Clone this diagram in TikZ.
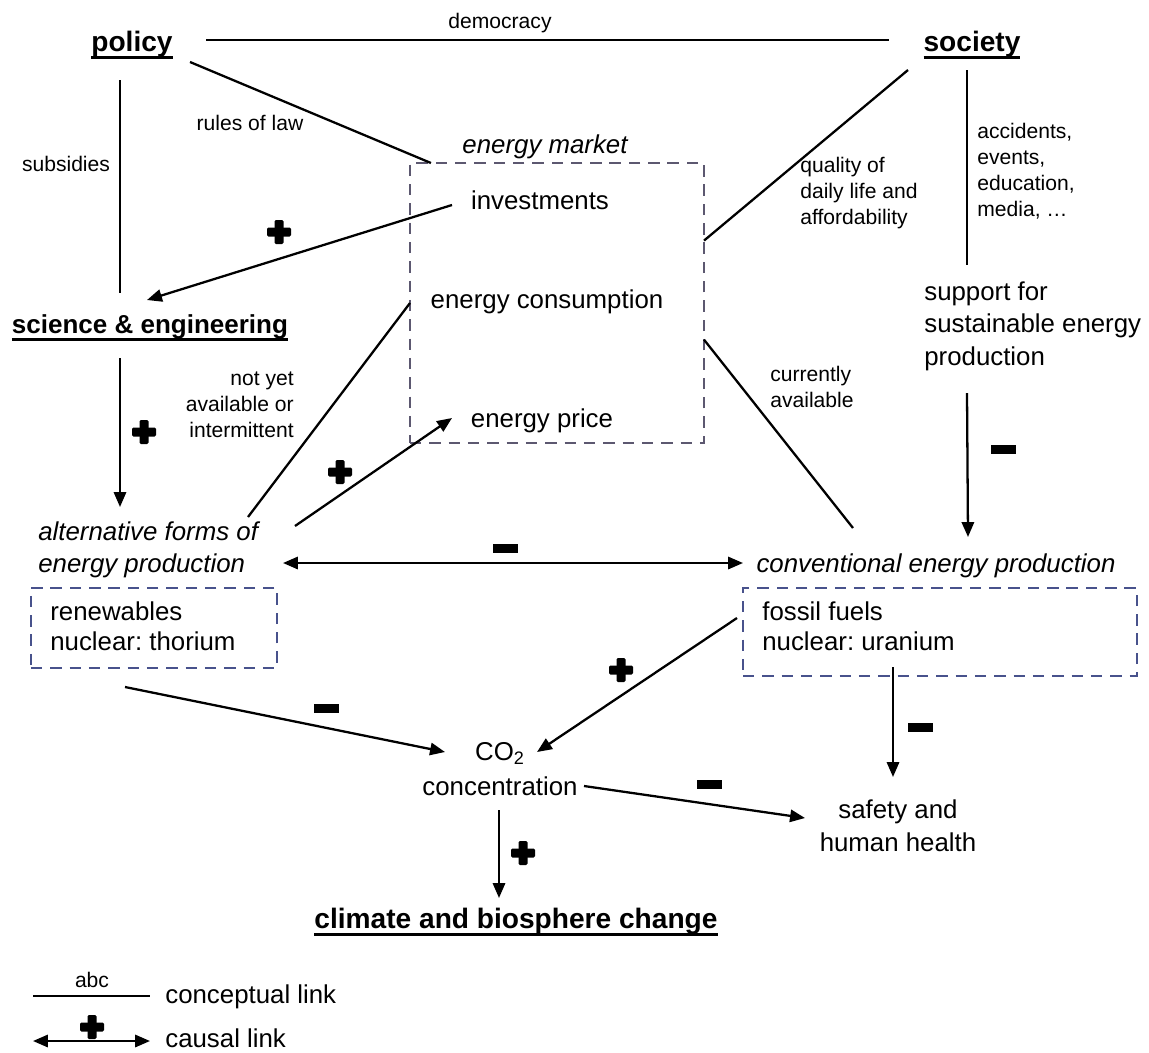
\documentclass[tikz,border=0pt]{standalone}
\usepackage{fontspec}
\setmainfont{Liberation Sans}
\usetikzlibrary{arrows.meta,calc,fit}

\definecolor{boxblue}{RGB}{72,82,140}
\definecolor{mktgray}{RGB}{92,88,112}

\newcommand\bigtxt{\fontsize{14.7}{18.5}\selectfont}
\newcommand\smalltxt{\fontsize{12}{14.7}\selectfont}
\newcommand\headtxt{\fontsize{16}{18}\selectfont\bfseries}
\newcommand\ulabel[1]{\setbox0\hbox{#1}\rlap{\rule[-4.4pt]{\wd0}{1.3pt}}\box0}
\frenchspacing

\begin{document}
\begin{tikzpicture}[x=0.02cm,y=-0.02cm,
    big/.style={inner sep=0pt,font=\bigtxt},
    small/.style={inner sep=0pt,font=\smalltxt},
    head/.style={inner sep=0pt,font=\headtxt},
    link/.style={line width=1.3pt},
    cause/.style={line width=1.3pt,-{Triangle[length=8.5pt,width=7pt]}},
    both/.style={line width=1.3pt,{Triangle[length=8.5pt,width=7pt]}-{Triangle[length=8.5pt,width=7pt]}},
    dbox/.style={draw=boxblue,line width=1.2pt,dash pattern=on 6.5pt off 4.5pt,inner sep=0pt,outer sep=0pt},
    pics/plus/.style={code={
        \fill[rounded corners=0.8pt] (-12,-4.5) rectangle (12,4.5);
        \fill[rounded corners=0.8pt] (-4.5,-12) rectangle (4.5,12);}},
    pics/minus/.style={code={\fill (-12.5,-4.5) rectangle (12.5,4.5);}}]

    \useasboundingbox (0,0) rectangle (1149,1052);

    \node[head,anchor=base] (policy) at (132,51) {\ulabel{policy}};
    \node[head,anchor=base] (society) at (972,51) {\ulabel{society}};
    \node[head,anchor=base,font=\fontsize{14.8}{18}\selectfont\bfseries] (sci) at (150,333) {\ulabel{science \& engineering}};
    \node[head,anchor=base] (clim) at (516,928) {\ulabel{climate and biosphere change}};

    \node[small,anchor=base] (dem) at (500,28) {democracy};
    \node[small,anchor=base] (law) at (250,130) {rules of law};
    \node[small,anchor=base] (subs) at (66,171) {subsidies};
    \node[small,anchor=north west,align=left] (qual) at (800,157) {quality of\\daily life and\\affordability};
    \node[small,anchor=north west,align=left] (acc) at (977,123) {accidents,\\events,\\education,\\media, \dots};
    \node[small,anchor=north east,align=right] (notyet) at (294,372) {not yet\\available or\\intermittent};
    \node[small,anchor=north west,align=left] (curr) at (770,366) {currently\\available};

    %%%%%%%%%%%%%%%%%%%%%%%%%%%%%%%%%%%%

    \node[big,anchor=base,font=\bigtxt\itshape] (mkttitle) at (545,153) {energy market};
    \node[big,anchor=base] (inv) at (540,209) {investments};
    \node[big,anchor=base] (cons) at (547,308) {energy consumption};
    \node[big,anchor=base] (price) at (542,427) {energy price};
    \coordinate (mktA) at (410,163);
    \coordinate (mktB) at (704,443);
    \node[dbox,draw=mktgray,fit=(mktA)(mktB)] (mkt) {};

    \node[big,anchor=north west,align=left] (sup) at (924,281) {support for\\sustainable energy\\production};
    \node[big,anchor=north west,align=left,font=\bigtxt\itshape] (alt) at (38,521) {alternative forms of\\energy production};
    \node[big,anchor=base,font=\bigtxt\itshape] (conv) at (936,572) {conventional energy production};

    \coordinate (renA) at (31,588);
    \coordinate (renB) at (277,668);
    \node[dbox,fit=(renA)(renB)] (ren) {};
    \node[big,anchor=north west,align=left] (rentxt) at (50,601) {renewables\\[-1pt]nuclear: thorium};
    \coordinate (fosA) at (743,588);
    \coordinate (fosB) at (1137,676);
    \node[dbox,fit=(fosA)(fosB)] (fos) {};
    \node[big,anchor=north west,align=left] (fostxt) at (762,601) {fossil fuels\\[-1pt]nuclear: uranium};

    \node[big,anchor=north,align=center] (co2) at (500,742) {CO\textsubscript{2}\\[1.4pt]concentration};
    \node[big,anchor=north,align=center] (saf) at (898,799) {safety and\\[0.8pt]human health};

    %%%%%%%%%%%%%%%%%%%%%%%%%%%%%%%%%%%%

    \draw[link] ($(policy.base)+(74,-11)$) -- ($(society.base)+(-83,-11)$);
    \draw[link] ($(policy.base)+(58,11)$) -- (mkt.132);
    \draw[link] ($(policy.base)+(-12,29)$) -- ($(sci.base)+(-30,-40)$);
    \draw[cause] ($(inv.base)+(-88,-4)$) -- ($(sci.base)+(-3,-33)$);
    \draw[link] ($(society.base)+(-64,19)$) -- (mkt.23);
    \draw[link] ($(society.base)+(-5,19)$) -- ($(sup.north west)+(43,-16)$);
    \draw[cause] ($(sup.north west)+(43,112)$) -- ($(conv.base)+(32,-35)$);
    \draw[cause] ($(sci.base)+(-30,25)$) -- ($(alt.north west)+(82,-14)$);
    \draw[link] ($(alt.north west)+(210,-4)$) -- (mkt.west);
    \draw[cause] ($(alt.north west)+(257,5)$) -- ($(price.base)+(-90,-9)$);
    \draw[link] (mkt.-14) -- ($(conv.base)+(-83,-44)$);
    \draw[both] ($(alt.north west)+(245,42)$) -- ($(conv.base)+(-193,-9)$);
    \draw[cause] ($(ren.south west)+(94,19)$) -- ($(co2.north)+(-55,10)$);
    \draw[cause] ($(fos.north west)+(-6,30)$) -- ($(co2.north)+(37,10)$);
    \draw[cause] ($(fos.south west)+(150,-9)$) -- ($(saf.north)+(-5,-22)$);
    \draw[cause] ($(co2.north)+(84,44)$) -- ($(saf.north)+(-93,19)$);
    \draw[cause] ($(co2.north)+(-1,68)$) -- ($(clim.base)+(-17,-30)$);

    \foreach \x/\y in {279/232,144/432,340/472,621/670,523/853,92/1027}
    \pic at (\x,\y) {plus};
    \foreach \x/\y in {1003/449,505/548,326/708,920/727,709/784}
    \pic at (\x,\y) {minus};

    %%%%%%%%%%%%%%%%%%%%%%%%%%%%%%%%%%%%

    \coordinate (lgA) at (33,996);
    \coordinate (lgB) at (150,996);
    \draw[link] (lgA) -- (lgB);
    \node[small,anchor=base] (abc) at (92,987) {abc};
    \node[big,anchor=base west] (lgconc) at (165,1003) {conceptual link};
    \coordinate (lgC) at (33,1041);
    \coordinate (lgD) at (150,1041);
    \draw[both] (lgC) -- (lgD);
    \node[big,anchor=base west] (lgcaus) at (165,1047) {causal link};

\end{tikzpicture}
\end{document}
